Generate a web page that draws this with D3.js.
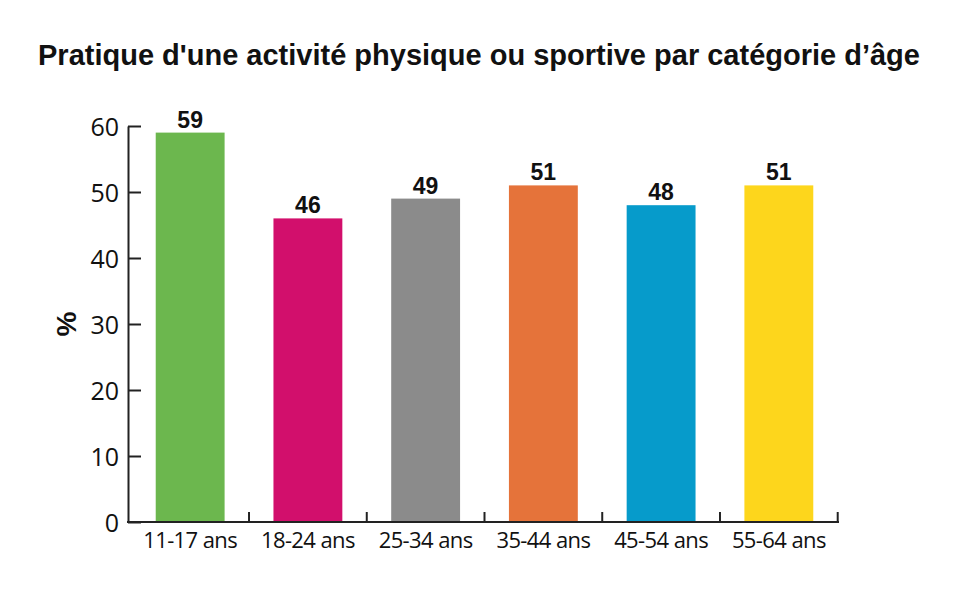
<!DOCTYPE html>
<html><head><meta charset="utf-8">
<script src="https://cdn.jsdelivr.net/npm/d3@7"></script>
<style>body{margin:0;background:#fff}</style>
</head><body>
<svg id="c" width="968" height="594"></svg>
<script>
const categories = ["11-17 ans","18-24 ans","25-34 ans","35-44 ans","45-54 ans","55-64 ans"];
const values = [59,46,49,51,48,51];
const colors = ["#6cb74e","#d20f6c","#8b8b8b","#e5733a","#069bcb","#fdd61c"];
const yTicks = [0,10,20,30,40,50,60];
const title = "Pratique d'une activité physique ou sportive par catégorie d’âge";
const yLabel = "%";

const svg = d3.select("#c");
const x = d3.scaleBand().domain(categories).range([131,838]).paddingInner(0.415).paddingOuter(0.21);
const y = d3.scaleLinear().domain([0,60]).range([522,126]);

svg.append("text").attr("x",479).attr("y",65).attr("text-anchor","middle")
  .attr("font-family","Liberation Sans, Arial, sans-serif").attr("font-weight","bold")
  .attr("font-size",29).attr("fill","#111").text(title);

// bars
svg.selectAll("rect.bar").data(values).join("rect").attr("class","bar")
  .attr("x",(d,i)=>x(categories[i])).attr("width",x.bandwidth())
  .attr("y",d=>y(d)).attr("height",d=>y(0)-y(d))
  .attr("fill",(d,i)=>colors[i]);

svg.selectAll("text.val").data(values).join("text").attr("class","val")
  .attr("x",(d,i)=>x(categories[i])+x.bandwidth()/2).attr("y",d=>y(d)-5)
  .attr("text-anchor","middle").attr("font-family","Liberation Sans, Arial, sans-serif")
  .attr("font-weight","bold").attr("font-size",23).attr("fill","#111").text(d=>d);

// y axis
const ya = svg.append("g").attr("transform","translate(128,0)")
  .call(d3.axisLeft(y).tickValues(yTicks).tickSize(-13).tickPadding(9).tickSizeOuter(0));
ya.select(".domain").attr("stroke","#222").attr("stroke-width",2);
ya.selectAll(".tick line").attr("stroke","#222").attr("stroke-width",2);
ya.selectAll(".tick text").attr("font-family","Open Sans, sans-serif").attr("font-size",25).attr("fill","#111").attr("dy","0.36em");

// x axis
const xa = svg.append("g").attr("transform","translate(0,522)");
xa.append("line").attr("x1",127).attr("x2",839).attr("stroke","#222").attr("stroke-width",2);
const bounds = categories.map(c=>x(c)+x.bandwidth()+x.step()*x.paddingInner()/2);
xa.selectAll("line.t").data(bounds).join("line").attr("class","t")
  .attr("x1",d=>d).attr("x2",d=>d).attr("y1",0).attr("y2",-10)
  .attr("stroke","#222").attr("stroke-width",2);
xa.selectAll("text").data(categories).join("text")
  .attr("x",d=>x(d)+x.bandwidth()/2).attr("y",26).attr("text-anchor","middle")
  .attr("font-family","Open Sans, sans-serif").attr("font-size",22).attr("letter-spacing",-0.6).attr("fill","#111").text(d=>d);

svg.append("text").attr("transform","translate(76,324) rotate(-90)").attr("text-anchor","middle")
  .attr("font-family","Liberation Sans, Arial, sans-serif").attr("font-weight","bold")
  .attr("font-size",28).attr("fill","#111").text(yLabel);
</script>
</body></html>
